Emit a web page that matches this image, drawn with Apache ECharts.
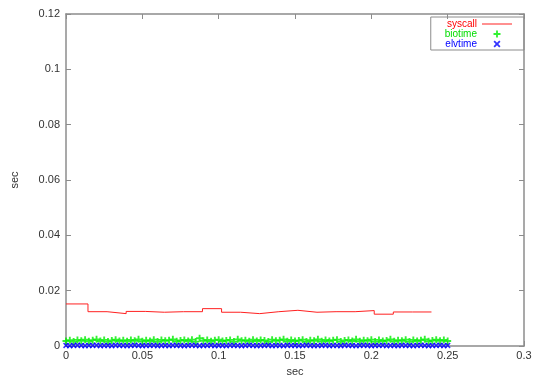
<!DOCTYPE html>
<html>
<head>
<meta charset="utf-8">
<script src="https://cdn.jsdelivr.net/npm/echarts@6/dist/echarts.min.js"></script>
<style>
  html, body { margin: 0; padding: 0; background: #fff; }
  #chart { width: 538px; height: 378px; }
</style>
</head>
<body>
<div id="chart"></div>
<script>
// syscall: step line, [time, value]
const syscallTimes = [0, 0.0144, 0.0269, 0.0394, 0.0519, 0.0644, 0.0769, 0.0894, 0.1019, 0.1144,
  0.1269, 0.1394, 0.1519, 0.1644, 0.1769, 0.1894, 0.2019, 0.2144, 0.2269, 0.2394];
const syscallValues = [0.0152, 0.0124, 0.0117, 0.0125, 0.0122, 0.0124, 0.0124, 0.0135, 0.0122, 0.0117,
  0.0124, 0.0129, 0.0122, 0.0124, 0.0124, 0.0128, 0.0115, 0.0123, 0.0123, 0.0123];

// biotime / elvtime sampled every SAMPLE_STEP sec from 0 to 0.25
const SAMPLE_STEP = 0.0025;
const biotimeValues = [
  0.0018, 0.0021, 0.0016, 0.0022, 0.0019, 0.0023, 0.0017, 0.0021, 0.0024, 0.0018,
  0.0022, 0.0016, 0.0020, 0.0023, 0.0018, 0.0021, 0.0017, 0.0022, 0.0019, 0.0024,
  0.0017, 0.0021, 0.0018, 0.0023, 0.0016, 0.0022, 0.0019, 0.0021, 0.0024, 0.0017,
  0.0020, 0.0022, 0.0018, 0.0023, 0.0016, 0.0028, 0.0019, 0.0022, 0.0017, 0.0021,
  0.0023, 0.0018, 0.0020, 0.0022, 0.0016, 0.0024, 0.0019, 0.0021, 0.0017, 0.0023,
  0.0018, 0.0022, 0.0020, 0.0016, 0.0023, 0.0019, 0.0021, 0.0024, 0.0017, 0.0022,
  0.0018, 0.0020, 0.0023, 0.0016, 0.0021, 0.0019, 0.0024, 0.0017, 0.0022, 0.0018,
  0.0021, 0.0023, 0.0016, 0.0020, 0.0022, 0.0018, 0.0024, 0.0017, 0.0021, 0.0019,
  0.0023, 0.0016, 0.0022, 0.0018, 0.0020, 0.0024, 0.0017, 0.0021, 0.0019, 0.0023,
  0.0016, 0.0022, 0.0018, 0.0021, 0.0024, 0.0017, 0.0020, 0.0023, 0.0019, 0.0022,
  0.0018
];
const elvtimeValues = [
  0.0002, 0.0001, 0.0002, 0.0003, 0.0002, 0.0001, 0.0002, 0.0002, 0.0003, 0.0001,
  0.0002, 0.0002, 0.0001, 0.0003, 0.0002, 0.0002, 0.0001, 0.0002, 0.0003, 0.0002,
  0.0001, 0.0002, 0.0002, 0.0003, 0.0001, 0.0002, 0.0002, 0.0001, 0.0003, 0.0002,
  0.0002, 0.0001, 0.0002, 0.0003, 0.0002, 0.0001, 0.0002, 0.0002, 0.0003, 0.0001,
  0.0002, 0.0002, 0.0001, 0.0003, 0.0002, 0.0002, 0.0001, 0.0002, 0.0003, 0.0002,
  0.0001, 0.0002, 0.0002, 0.0003, 0.0001, 0.0002, 0.0002, 0.0001, 0.0003, 0.0002,
  0.0002, 0.0001, 0.0002, 0.0003, 0.0002, 0.0001, 0.0002, 0.0002, 0.0003, 0.0001,
  0.0002, 0.0002, 0.0001, 0.0003, 0.0002, 0.0002, 0.0001, 0.0002, 0.0003, 0.0002,
  0.0001, 0.0002, 0.0002, 0.0003, 0.0001, 0.0002, 0.0002, 0.0001, 0.0003, 0.0002,
  0.0002, 0.0001, 0.0002, 0.0003, 0.0002, 0.0001, 0.0002, 0.0002, 0.0003, 0.0001,
  0.0002
];

const dom = document.getElementById("chart");
const myChart = echarts.init(dom, null, { renderer: "canvas" });

const FONT = "Arial, 'Liberation Sans', sans-serif";
const AXIS_GRAY = "#8c8c8c";
const PLUS = "path://M2.2,0H3.8V2.2H6V3.8H3.8V6H2.2V3.8H0V2.2H2.2Z";
const CROSS = "path://M0,1.1L1.1,0L3,1.9L4.9,0L6,1.1L4.1,3L6,4.9L4.9,6L3,4.1L1.1,6L0,4.9L1.9,3Z";

const syscallData = syscallTimes.map((t, i) => [t, syscallValues[i]]);
const biotimeData = biotimeValues.map((v, i) => [i * SAMPLE_STEP, v]);
const elvtimeData = elvtimeValues.map((v, i) => [i * SAMPLE_STEP, v]);

const mainAxis = {
  axisLine: { show: true, onZero: false, lineStyle: { color: AXIS_GRAY, width: 1.5 } },
  axisTick: { show: true, inside: true, length: 5, lineStyle: { color: AXIS_GRAY } },
  splitLine: { show: false },
  axisLabel: { color: "#333", fontSize: 11, fontFamily: FONT },
  nameTextStyle: { color: "#333", fontSize: 11, fontFamily: FONT },
};

const mirrorAxis = {
  axisLine: { show: true, onZero: false, lineStyle: { color: AXIS_GRAY, width: 1.5 } },
  axisTick: { show: true, inside: true, length: 5, lineStyle: { color: AXIS_GRAY } },
  axisLabel: { show: false },
  splitLine: { show: false },
};

const option = {
  backgroundColor: "#fff",
  animation: false,
  grid: { left: 66, right: 14, top: 14, bottom: 32, outerBoundsMode: "none", containLabel: false },
  legend: {
    orient: "vertical",
    right: 14,
    top: 17,
    align: "right",
    itemWidth: 30,
    itemHeight: 7,
    itemGap: 0,
    padding: [2, 12, 1, 14],
    borderColor: AXIS_GRAY,
    borderWidth: 1,
    textStyle: { fontSize: 10, fontFamily: FONT, lineHeight: 10 },
    data: [
      { name: "syscall", icon: "path://M0,0H30V1H0Z", textStyle: { color: "#ff0000" } },
      { name: "biotime", icon: PLUS, textStyle: { color: "#00dd00" } },
      { name: "elvtime", icon: CROSS, textStyle: { color: "#0000ff" } },
    ],
  },
  xAxis: [
    Object.assign({}, mainAxis, {
      type: "value",
      min: 0,
      max: 0.3,
      interval: 0.05,
      name: "sec",
      nameLocation: "middle",
      nameGap: 20,
      axisLabel: Object.assign({}, mainAxis.axisLabel, { margin: 4 }),
    }),
    Object.assign({}, mirrorAxis, {
      type: "value",
      position: "top",
      min: 0,
      max: 0.3,
      interval: 0.05,
    }),
  ],
  yAxis: [
    Object.assign({}, mainAxis, {
      type: "value",
      min: 0,
      max: 0.12,
      interval: 0.02,
      name: "sec",
      nameLocation: "middle",
      nameGap: 46,
      axisLabel: Object.assign({}, mainAxis.axisLabel, { margin: 6 }),
    }),
    Object.assign({}, mirrorAxis, {
      type: "value",
      position: "right",
      min: 0,
      max: 0.12,
      interval: 0.02,
    }),
  ],
  series: [
    {
      name: "syscall",
      type: "line",
      step: "end",
      showSymbol: false,
      symbol: "none",
      color: "#ff2020",
      lineStyle: { color: "#ff2020", width: 1 },
      data: syscallData,
    },
    {
      name: "biotime",
      type: "scatter",
      symbol: PLUS,
      symbolSize: 7,
      color: "#00ee00",
      itemStyle: { color: "#00ee00" },
      data: biotimeData,
    },
    {
      name: "elvtime",
      type: "scatter",
      symbol: CROSS,
      symbolSize: 6,
      color: "#0000ff",
      itemStyle: { color: "#0000ff" },
      data: elvtimeData,
    },
  ],
};

option && myChart.setOption(option);
</script>
</body>
</html>
